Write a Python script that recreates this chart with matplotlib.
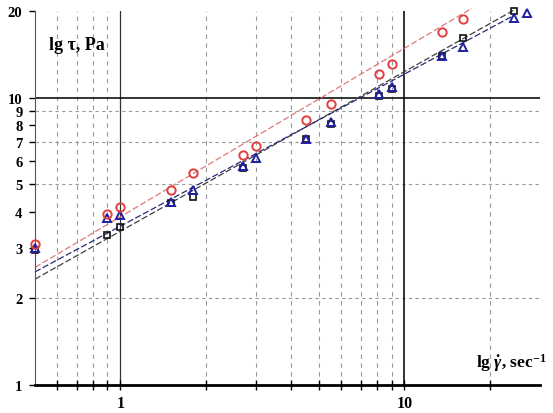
import matplotlib.pyplot as plt
from matplotlib.ticker import FixedLocator, NullFormatter, FixedFormatter
import numpy as np

plt.rcParams['font.family'] = ['Liberation Serif', 'DejaVu Serif']
plt.rcParams['font.weight'] = 'bold'
plt.rcParams['mathtext.fontset'] = 'custom'
plt.rcParams['mathtext.rm'] = 'Liberation Serif:bold'
plt.rcParams['mathtext.it'] = 'Liberation Serif:italic:bold'
plt.rcParams['mathtext.bf'] = 'Liberation Serif:bold'

# measured points (shear rate, shear stress)
red_x = [0.5, 0.9, 1.0, 1.5, 1.8, 2.7, 3.0, 4.5, 5.5, 8.1, 9.0, 13.5, 16.1]
red_y = [3.1, 3.93, 4.16, 4.77, 5.47, 6.32, 6.8, 8.37, 9.53, 12.1, 13.1, 16.9, 18.7]

black_x = [0.5, 0.9, 1.0, 1.5, 1.8, 2.7, 4.5, 5.5, 8.1, 9.0, 13.5, 16.1, 24.3]
black_y = [2.95, 3.32, 3.54, 4.3, 4.51, 5.7, 7.19, 8.1, 10.1, 10.7, 13.9, 16.1, 20.0]

blue_x = [0.5, 0.9, 1.0, 1.5, 1.8, 2.7, 3.0, 4.5, 5.5, 8.1, 9.0, 13.5, 16.1, 24.3, 27.0]
blue_y = [3.0, 3.8, 3.9, 4.33, 4.75, 5.8, 6.17, 7.2, 8.2, 10.3, 10.9, 14.0, 15.0, 18.9, 19.7]

# power-law trend lines tau = K * gamma^n
fit_K = [3.85, 3.43, 3.57]
fit_n = [0.586, 0.555, 0.529]
fit_xmax = [17.3, 24.5, 24.0]
fit_colors = ['#e07a7a', '#404040', '#2a2a7a']

fig = plt.figure(figsize=(5.53, 4.14), dpi=100)
ax = fig.add_axes([35 / 553, 28 / 414, 505 / 553, 374 / 414])
ax.set_xscale('log')
ax.set_yscale('log')
ax.set_xlim(0.5, 30)
ax.set_ylim(1, 20)

# grid
for gx in [0.6, 0.7, 0.8, 0.9, 2, 3, 4, 5, 6, 7, 8, 9, 20]:
    ax.axvline(gx, color='#999999', lw=0.8, ls=(0, (4, 4)), zorder=1)
for gy in [2, 5, 7, 9]:
    ax.axhline(gy, color='#999999', lw=0.8, ls=(0, (3, 3)), zorder=1)
ax.axvline(1, color='#333333', lw=0.9, zorder=1)
ax.axvline(10, color='#111111', lw=1.2, zorder=1)
ax.axhline(10, color='#111111', lw=1.2, zorder=1)

# trend lines
for K, n, xm, c in zip(fit_K, fit_n, fit_xmax, fit_colors):
    xs = np.array([0.5, xm])
    ax.plot(xs, K * xs ** n, color=c, lw=0.9, ls=(0, (5, 2)), zorder=2, clip_on=False)

ax.plot(black_x, black_y, 's', ms=5, mfc='none', mec='#111111', mew=1.2, zorder=3, clip_on=False)
ax.plot(blue_x, blue_y, '^', ms=6, mfc='none', mec='#2020a0', mew=1.4, zorder=4, clip_on=False)
ax.plot(red_x, red_y, 'o', ms=6, mfc='none', mec='#e04040', mew=1.4, zorder=5, clip_on=False)

# axes look
ax.spines['top'].set_visible(False)
ax.spines['right'].set_visible(False)
ax.spines['left'].set_color('#555555')
ax.spines['left'].set_linewidth(0.8)
ax.spines['bottom'].set_linewidth(2)

ax.xaxis.set_major_locator(FixedLocator([1, 10]))
ax.xaxis.set_major_formatter(FixedFormatter(['1', '10']))
ax.xaxis.set_minor_locator(FixedLocator([0.6, 0.7, 0.8, 0.9, 2, 3, 4, 5, 6, 7, 8, 9, 20]))
ax.xaxis.set_minor_formatter(NullFormatter())
ax.tick_params(axis='x', which='both', direction='inout', length=7, width=1, labelsize=11.5, pad=4)

yt = [1, 2, 3, 4, 5, 6, 7, 8, 9, 10, 20]
ax.yaxis.set_major_locator(FixedLocator(yt))
ax.yaxis.set_major_formatter(FixedFormatter([str(v) for v in yt]))
ax.yaxis.set_minor_locator(FixedLocator([]))
ax.tick_params(axis='y', which='major', direction='out', length=4, width=1, labelsize=10.5, pad=5)

ax.text(0.56, 15.3, 'lg τ, Pa', fontsize=13, fontweight='bold', ha='left', va='center')
ax.text(31.5, 1.1, r'lg $\dot{\gamma}$, sec$^{-1}$', fontsize=12.5, fontweight='bold',
        ha='right', va='bottom')

fig.savefig('out.png', dpi=100)
